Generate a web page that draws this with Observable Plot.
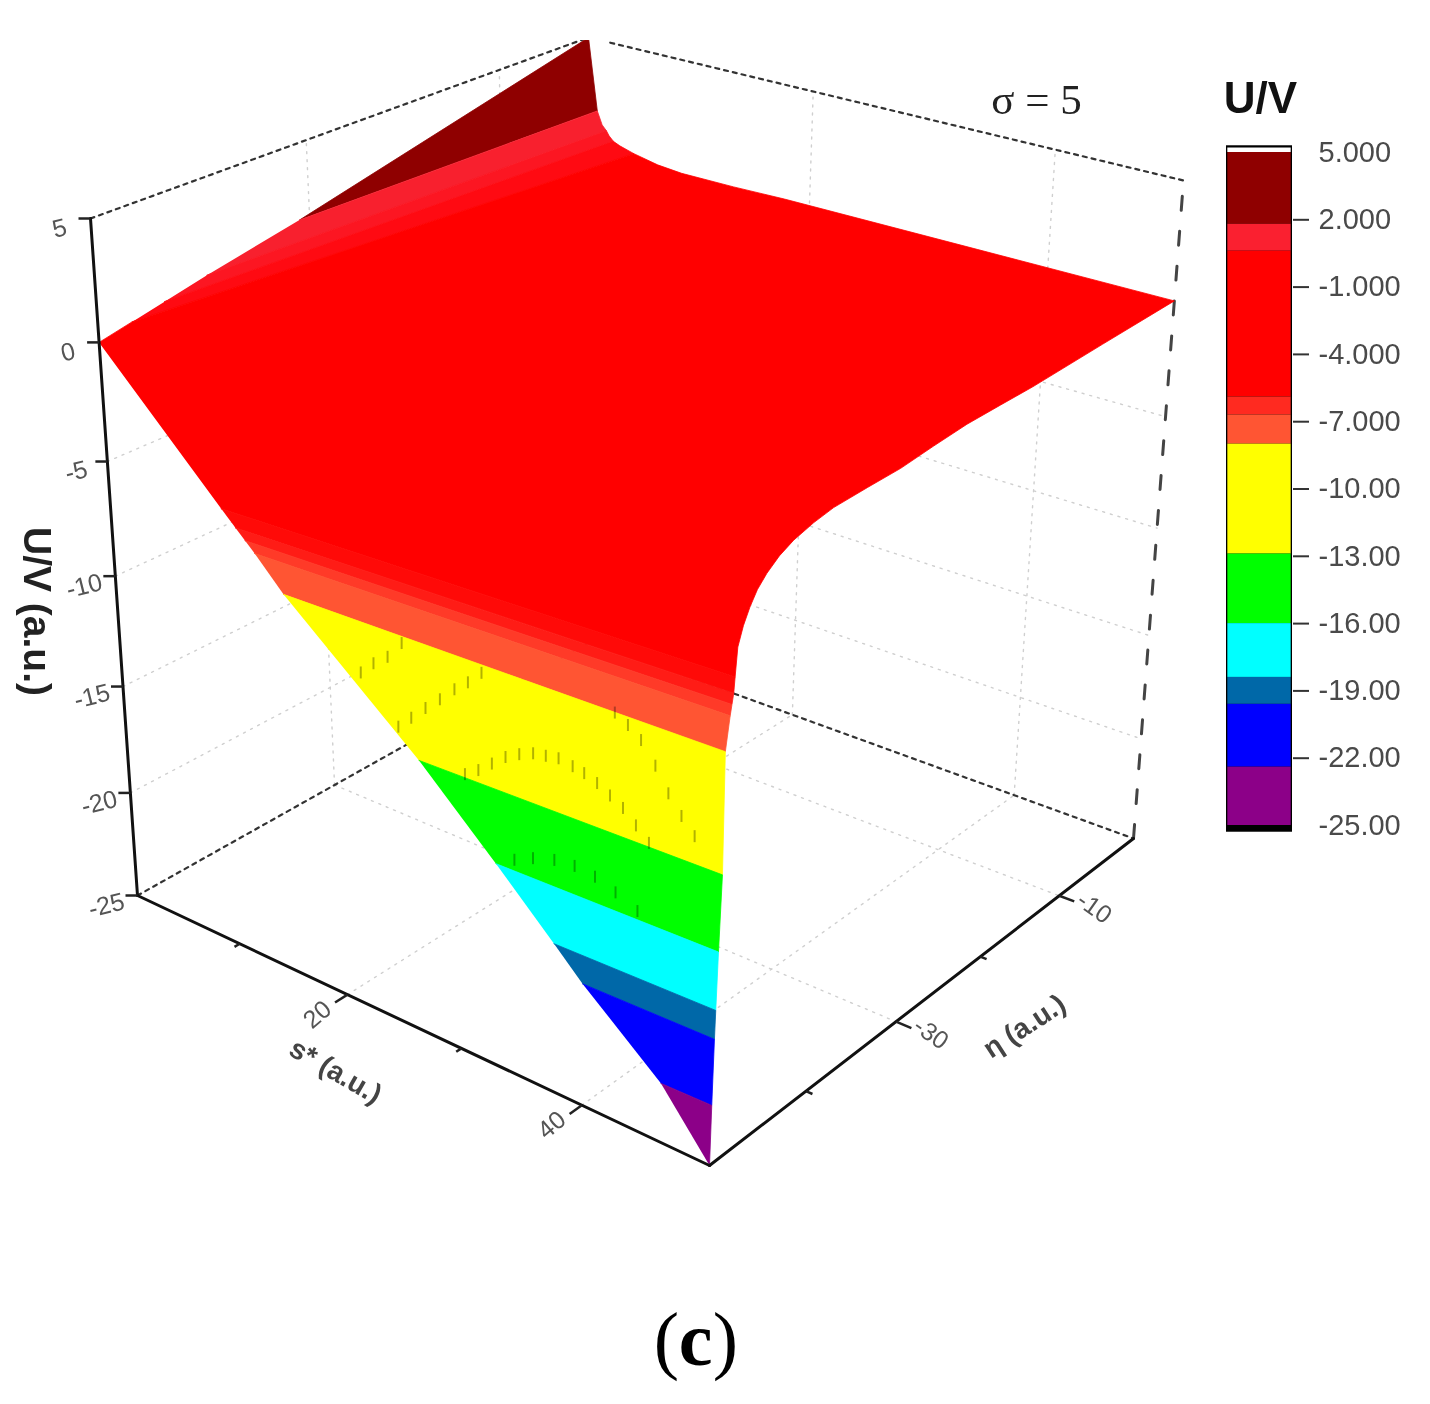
<!DOCTYPE html>
<html>
<head>
<meta charset="utf-8">
<script src="https://cdn.jsdelivr.net/npm/d3@7"></script>
<script src="https://cdn.jsdelivr.net/npm/@observablehq/plot@0.6"></script>
<style>
html,body{margin:0;padding:0;background:#fff;}
#wrap{position:relative;width:1430px;height:1404px;overflow:hidden;filter:blur(0.5px);}
#wrap svg{position:absolute;overflow:visible;background:transparent;}
</style>
</head>
<body>
<div id="wrap"></div>
<script>
// ---------- values ----------
// colour-bar class limits (U/V) and their colours
const barLimits = [5, 1.8, 0.6, -5.9, -6.7, -8, -12.9, -16, -18.4, -19.6, -22.4, -25];
const barColors = ["#8f0000", "#fa2030", "#ff0000", "#ff2a20", "#ff5533", "#ffff00", "#00ff00", "#00ffff", "#0068a8", "#0000ff", "#8c0088"];
// lower part of the surface: limits of the coloured strips and where each meets the two front edges
const stripU = [-5.3, -5.9, -6.3, -6.7, -8, -12.9, -16, -18.4, -19.6, -22.4, -25];
const stripColors = ["#ff0a08", "#ff1c16", "#ff3a28", "#ff5533", "#ffff00", "#00ff00", "#00ffff", "#0068a8", "#0000ff", "#8c0088"];
const stripS = [10.2, 11.4, 12.2, 13, 15.4, 26.7, 33, 37.7, 40, 46.2, 50];          // at eta = -50
const stripEta = [-48.5, -48.6, -48.75, -48.9, -49.3, -49.32, -49.55, -49.7, -49.77, -49.9, -50]; // at s* = 50
// remainder of the s* = 50 edge, up to U = 0
const rightEta = [-48.3, -47.8, -47.2, -46.5, -45.6, -44.4, -43, -41, -39, -35.5, -32, -28.5, -24.8, -21, -17.3, -9, 0];
const rightU = [-4.2, -3.5, -2.93, -2.42, -2, -1.6, -1.3, -1.05, -0.89, -0.83, -0.79, -0.62, -0.47, -0.43, -0.4, -0.2, 0];
// surface edge at eta = 0
const backS = [0, 0.8, 1.25, 1.65, 1.9, 2.3, 2.9, 4.2, 6.4, 8.6, 13.3, 17.8, 34.3, 50];
const backU = [5, 1.8, 1.22, 1, 0.8, 0.6, 0.47, 0.28, 0.05, -0.05, -0.05, 0, 0, 0];
// surface edge at s* = 0
const startEta = [-50, -47, -44, -40, -31, 0];
const startU = [0, 0.3, 0.6, 1, 1.8, 5];
// dark dashes showing on the surface, near eta = -50: rows of s* and U
const seamS = [21.9, 23, 24.2, 25.4, 25, 26.1, 27.3, 28.5, 29.7, 30.8, 31.9, 30.5, 31.6, 32.7, 33.8, 34.9, 36, 37, 38, 39.1, 40, 41, 42, 43, 44, 45, 42.3, 43.3, 44.3, 45.4, 46.4, 47.4, 48.4, 34.5, 36, 37.7, 39.3, 40.9, 42.5, 44.2];
const seamU = [-10.1, -9.5, -9, -8.2, -11.8, -11.2, -10.55, -9.95, -9.3, -8.8, -8.2, -12.7, -12.3, -11.8, -11.3, -10.96, -10.7, -10.6, -10.5, -10.6, -10.7, -10.9, -11.2, -11.5, -12, -12.5, -7.8, -8.1, -8.5, -9.3, -10.2, -10.9, -11.5, -15.5, -15.1, -14.8, -14.7, -14.8, -15.1, -15.5];

const uTicks = [5, 0, -5, -10, -15, -20, -25];
const uGrid = [-5, -10, -15, -20];
const sMajor = [20, 40];
const sMinor = [10, 30];
const etaMajor = [-10, -30];
const etaMinor = [-20, -40];
const barTicks = [2, -1, -4, -7, -10, -13, -16, -19, -22];
const barLabels = [5, 2, -1, -4, -7, -10, -13, -16, -19, -22, -25];
const barLabelText = ["5.000", "2.000", "-1.000", "-4.000", "-7.000", "-10.00", "-13.00", "-16.00", "-19.00", "-22.00", "-25.00"];

// ---------- view of the 3-D box (perspective camera) ----------
function quad(A, B, C, D) { // (0,0)=A (1,0)=B (1,1)=C (0,1)=D
  const dx1 = B[0]-C[0], dx2 = D[0]-C[0], sx = A[0]-B[0]+C[0]-D[0];
  const dy1 = B[1]-C[1], dy2 = D[1]-C[1], sy = A[1]-B[1]+C[1]-D[1];
  const den = dx1*dy2-dx2*dy1;
  const g = (sx*dy2-dx2*sy)/den, h = (dx1*sy-sx*dy1)/den;
  const a = B[0]-A[0]+g*B[0], b = D[0]-A[0]+h*D[0], d = B[1]-A[1]+g*B[1], e = D[1]-A[1]+h*D[1];
  return (u, v) => { const w = g*u+h*v+1; return [(a*u+b*v+A[0])/w, (d*u+e*v+A[1])/w]; };
}
const floorPlane = quad([137,895],[709,1165],[1133,838],[590,641]);
const topPlane = quad([90,218],[725,405],[1183,180],[588,37]);
const depth = 1.12;
function project(s, eta, U) {
  const u = s/50, v = (eta+50)/50;
  const b = floorPlane(u,v), t = topPlane(u,v);
  const T = (U+25)/30, f = T/(T+depth*(1-T));
  return [b[0]+(t[0]-b[0])*f, b[1]+(t[1]-b[1])*f];
}
const P = (s, eta, U) => ({s, eta, U});
const px = d => project(d.s, d.eta, d.U)[0];
const py = d => project(d.s, d.eta, d.U)[1];

// ---------- surface polygons from the edges ----------
const back = i => P(backS[i], 0, backU[i]);
const start = i => P(0, startEta[i], startU[i]);
const stripL = i => P(stripS[i], -50, stripU[i]);
const stripR = i => P(50, stripEta[i], stripU[i]);
const polys = [
  {fill: "#8f0000", pts: [start(4), start(5), back(1)]},
  {fill: "#f8202e", pts: [start(4), back(1), back(2), back(3), start(3)]},
  {fill: "#fc1622", pts: [start(3), back(3), back(4), back(5), start(2)]},
  {fill: "#ff0a12", pts: [start(2), back(5), back(6), back(7), start(1)]},
  {fill: "#ff0000", pts: [
    start(0), start(1),
    ...backS.map((_, i) => back(i)).slice(7),
    ...rightEta.map((e, i) => P(50, e, rightU[i])).reverse(),
    stripR(0), stripL(0)
  ]},
  ...stripColors.map((c, i) => ({fill: c, pts: [stripL(i), stripR(i), stripR(i+1), stripL(i+1)]}))
];

// ---------- lines of the box ----------
const seg = (a, b) => [a, b];
const gridLines = [
  ...uGrid.map(U => seg(P(0,-50,U), P(0,0,U))),
  ...uGrid.map(U => seg(P(0,0,U), P(50,0,U))),
  ...[-30,-10].map(e => seg(P(0,e,-25), P(0,e,5))),
  ...[20,40].map(s => seg(P(s,0,-25), P(s,0,5))),
  ...[20,40].map(s => seg(P(s,-50,-25), P(s,0,-25))),
  ...[-30,-10].map(e => seg(P(0,e,-25), P(50,e,-25)))
];
const dottedBox = [
  seg(P(0,-50,-25), P(0,0,-25)), seg(P(0,0,-25), P(50,0,-25)),
  seg(P(0,-50,5), P(0,0,5)), seg(P(2,0,5), P(50,0,5))
];
const dashedBox = [seg(P(50,0,-25), P(50,0,5))];
const solidBox = [
  seg(P(0,-50,5), P(0,-50,-25)), seg(P(0,-50,-25), P(50,-50,-25)), seg(P(50,-50,-25), P(50,0,-25))
];
const lineMarks = (segs, opts) => segs.map(pts => Plot.line(pts, {x: px, y: py, clip: true, ...opts}));
const sTick = (list, len) => Plot.link(list, {x1: d => project(d,-50,-25)[0], y1: d => project(d,-50,-25)[1], x2: d => project(d,-50-len,-25)[0], y2: d => project(d,-50-len,-25)[1], stroke: "#222", strokeWidth: 2.5});
const etaTick = (list, len) => Plot.link(list, {x1: d => project(50,d,-25)[0], y1: d => project(50,d,-25)[1], x2: d => project(50+len,d,-25)[0], y2: d => project(50+len,d,-25)[1], stroke: "#222", strokeWidth: 2.5});

const sans = "Liberation Sans, Arial, sans-serif";
const serif = "Liberation Serif, Times New Roman, serif";
const labelColor = "#555";

const chart = Plot.plot({
  width: 1430, height: 1404,
  marginTop: 40, marginRight: 0, marginBottom: 0, marginLeft: 0,
  x: {domain: [0,1430], range: [0,1430], axis: null},
  y: {domain: [40,1404], range: [40,1404], axis: null},
  style: {background: "transparent", fontFamily: sans},
  marks: [
    ...lineMarks(gridLines, {stroke: "#cfcfcf", strokeWidth: 1.4, strokeDasharray: "2 6"}),
    ...lineMarks(dottedBox, {stroke: "#333", strokeWidth: 2.2, strokeDasharray: "4 5"}),
    ...lineMarks(dashedBox, {stroke: "#444", strokeWidth: 3, strokeDasharray: "14 21"}),
    ...polys.map(p => Plot.line(p.pts, {x: px, y: py, fill: p.fill, stroke: p.fill, strokeWidth: 0.8, clip: true})),
    Plot.link(seamS, {
      x1: (d, i) => project(d,-50,seamU[i])[0], y1: (d, i) => project(d,-50,seamU[i])[1]-6,
      x2: (d, i) => project(d,-50,seamU[i])[0], y2: (d, i) => project(d,-50,seamU[i])[1]+6,
      stroke: "#000", strokeOpacity: 0.3, strokeWidth: 2
    }),
    ...lineMarks(solidBox, {stroke: "#111", strokeWidth: 3}),
    // ticks
    Plot.link(uTicks, {x1: d => project(0,-50,d)[0], y1: d => project(0,-50,d)[1], x2: d => project(0,-50,d)[0]-12, y2: d => project(0,-50,d)[1], stroke: "#222", strokeWidth: 2.5}),
    sTick(sMajor, 1.2), sTick(sMinor, 0.5),
    etaTick(etaMajor, 1.2), etaTick(etaMinor, 0.5),
    // tick labels
    Plot.text(uTicks, {x: d => project(0,-50,d)[0], y: d => project(0,-50,d)[1], text: d => String(d), dx: -31, dy: 10, rotate: -14, fontSize: 25, fill: labelColor}),
    Plot.text(sMajor, {x: d => project(d,-50,-25)[0], y: d => project(d,-50,-25)[1], text: d => String(d), dx: -30, dy: 20, rotate: -40, fontSize: 25, fill: labelColor}),
    Plot.text(etaMajor, {x: d => project(50,d,-25)[0], y: d => project(50,d,-25)[1], text: d => String(d), dx: 35, dy: 12, rotate: 35, fontSize: 25, fill: labelColor}),
    // axis titles and annotations
    Plot.text(["U/V (a.u.)"], {x: () => 36, y: () => 611, text: d => d, rotate: 90, fontSize: 39, fontWeight: "bold", fill: "#222"}),
    Plot.text(["s* (a.u.)"], {x: () => 335, y: () => 1071, text: d => d, rotate: 30, fontSize: 28, fontWeight: "bold", fill: "#444"}),
    Plot.text(["η (a.u.)"], {x: () => 1024, y: () => 1026, text: d => d, rotate: -33, fontSize: 28, fontWeight: "bold", fill: "#444"}),
    Plot.text(["σ = 5"], {x: () => 1036, y: () => 100, text: d => d, fontSize: 43, fontFamily: serif, fill: "#222"}),
    Plot.text(["U/V"], {x: () => 1260, y: () => 98, text: d => d, fontSize: 44, fontWeight: "bold", fill: "#111"}),
    Plot.text(["("], {x: () => 666, y: () => 1340, text: d => d, fontSize: 76, fontFamily: serif, fill: "#000"}),
    Plot.text(["c"], {x: () => 695, y: () => 1340, text: d => d, fontSize: 76, fontFamily: serif, fontWeight: "bold", fill: "#000"}),
    Plot.text([")"], {x: () => 725, y: () => 1340, text: d => d, fontSize: 76, fontFamily: serif, fill: "#000"})
  ]
});
chart.style.left = "0px"; chart.style.top = "0px";
document.getElementById("wrap").appendChild(chart);

// ---------- colour bar ----------
const barBands = barColors.map((c, i) => ({y1: barLimits[i], y2: barLimits[i+1], fill: c}));
const barTop = 130;
const bar = Plot.plot({
  width: 250, height: 730,
  marginTop: 0, marginBottom: 0, marginLeft: 46, marginRight: 138,
  x: {domain: [0,1], axis: null},
  y: {domain: [-25,5], range: [825-barTop, 152-barTop], axis: null},
  style: {background: "transparent", fontFamily: sans},
  marks: [
    Plot.rect([{y1: 5.3, y2: -25.3}], {x1: () => 0, x2: () => 1, y1: "y1", y2: "y2", fill: "#000"}),
    Plot.rect([{y1: 5.2, y2: 5}], {x1: () => 0.02, x2: () => 0.98, y1: "y1", y2: "y2", fill: "#fff"}),
    ...barBands.map(b => Plot.rect([b], {x1: () => 0.02, x2: () => 0.98, y1: "y1", y2: "y2", fill: b.fill})),
    Plot.axisY({anchor: "right", ticks: barTicks, tickSize: 16, tickFormat: () => "", stroke: "#333", strokeWidth: 2, label: null}),
    Plot.axisY({anchor: "right", ticks: barLabels, tickSize: 0, tickPadding: 26, tickFormat: d => barLabelText[barLabels.indexOf(d)], fontSize: 29, fill: "#4a4a4a", label: null})
  ]
});
bar.style.left = "1180px"; bar.style.top = barTop + "px";
document.getElementById("wrap").appendChild(bar);
</script>
</body>
</html>
